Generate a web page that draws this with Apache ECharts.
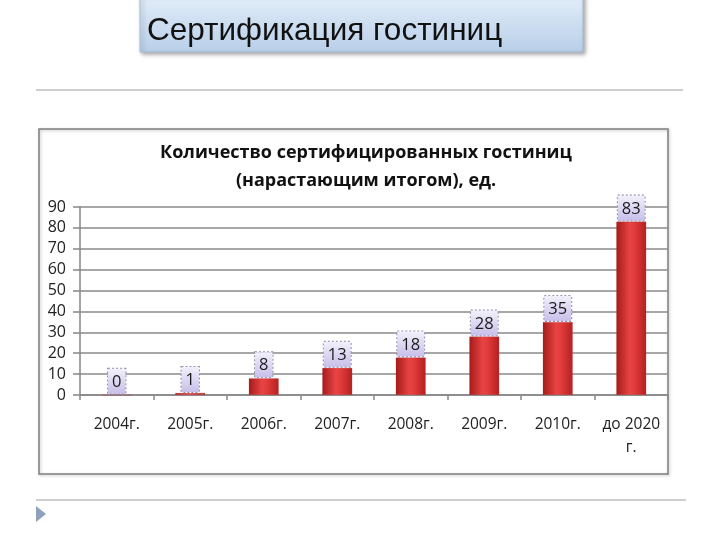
<!DOCTYPE html>
<html><head><meta charset="utf-8">
<script src="https://cdn.jsdelivr.net/npm/echarts@6/dist/echarts.min.js"></script>
<style>html,body{margin:0;padding:0;background:#fff;}#c{width:720px;height:540px;}</style>
</head><body><div id="c"></div>
<script>
const categories = ['2004г.', '2005г.', '2006г.', '2007г.', '2008г.', '2009г.', '2010г.', 'до 2020\nг.'];
const values = [0, 1, 8, 13, 18, 28, 35, 83];
const yTicks = [0, 10, 20, 30, 40, 50, 60, 70, 80, 90];
const pageTitle = 'Сертификация гостиниц';
const chartTitle = 'Количество сертифицированных гостиниц\n(нарастающим итогом), ед.';

const chart = echarts.init(document.getElementById('c'));
const G = echarts.graphic;
const barColor = new G.LinearGradient(0, 0, 1, 0, [
  {offset: 0, color: '#a51a1a'},
  {offset: 0.45, color: '#e84444'},
  {offset: 0.6, color: '#e23c3c'},
  {offset: 1, color: '#b42020'}
]);
const lblBg = new G.LinearGradient(0, 0, 0, 1, [
  {offset: 0, color: '#f4f2fc'},
  {offset: 1, color: '#c6bde8'}
]);
const font = '"Open Sans", sans-serif';
chart.setOption({
  animation: false,
  backgroundColor: '#fff',
  title: {
    text: chartTitle,
    left: 361, top: 134, textAlign: 'center',
    textStyle: {fontFamily: font, fontWeight: 'bold', fontSize: 18, lineHeight: 28, color: '#111'}
  },
  graphic: [
    {type: 'rect', shape: {x: 140, y: -6, width: 443, height: 58},
     style: {fill: new G.LinearGradient(0, 0, 0, 1, [{offset: 0, color: '#e4eef9'}, {offset: 1, color: '#b8cfe9'}]),
             stroke: '#a9bdd6', lineWidth: 1, shadowBlur: 4, shadowOffsetX: 2, shadowOffsetY: 2, shadowColor: 'rgba(0,0,0,0.35)'}},
    {type: 'text', x: 147, y: 15, style: {text: pageTitle, font: '31.5px "Liberation Sans", Arial, sans-serif', fill: '#111'}},
    {type: 'rect', shape: {x: 36, y: 89, width: 647, height: 2}, style: {fill: '#cfcfcf'}},
    {type: 'rect', shape: {x: 36, y: 499, width: 650, height: 2}, style: {fill: '#cfcfcf'}},
    {type: 'polygon', shape: {points: [[36, 506], [46, 514], [36, 522]]}, style: {fill: '#8ea2bd'}},
    {type: 'rect', shape: {x: 39, y: 129, width: 629, height: 345},
     style: {fill: 'none', stroke: '#7f7f7f', lineWidth: 1.5, shadowBlur: 3, shadowOffsetX: 1, shadowOffsetY: 1, shadowColor: 'rgba(0,0,0,0.25)'}, z: -1}
  ],
  grid: {left: 80, right: 52, top: 207, bottom: 145},
  xAxis: {
    type: 'category', data: categories,
    axisLine: {lineStyle: {color: '#868686', width: 1.5}},
    axisTick: {show: true, length: 5, lineStyle: {color: '#868686', width: 1.5}},
    axisLabel: {margin: 18, fontFamily: font, fontSize: 15.5, color: '#222', lineHeight: 23, interval: 0}
  },
  yAxis: {
    type: 'value', min: yTicks[0], max: yTicks[yTicks.length - 1], interval: 10,
    axisLine: {show: true, lineStyle: {color: '#868686', width: 1.5}},
    axisTick: {show: true, length: 7, lineStyle: {color: '#868686', width: 1.5}},
    splitLine: {lineStyle: {color: '#8a8a8a', width: 1.5}},
    axisLabel: {margin: 14, fontFamily: font, fontSize: 16, color: '#222'}
  },
  series: [{
    type: 'bar', data: values, barWidth: 30,
    itemStyle: {color: barColor, borderColor: '#c23a3a', borderWidth: 0.5, borderType: 'dotted'},
    label: {
      show: true, position: 'top', distance: 1,
      fontFamily: font, fontSize: 16.5, color: '#1a1a1a',
      backgroundColor: lblBg, borderColor: '#8f8fb0', borderWidth: 1, borderType: 'dotted',
      padding: [5, 4, 3, 4]
    }
  }]
});
</script></body></html>
